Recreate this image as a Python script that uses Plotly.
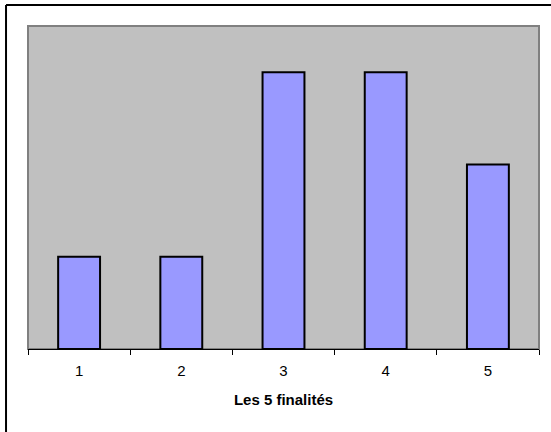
import plotly.graph_objects as go

categories = ["1", "2", "3", "4", "5"]
values = [1, 1, 3, 3, 2]
x_title = "Les 5 finalités"

fig = go.Figure(go.Bar(
    x=categories, y=values,
    marker=dict(color="#9999FF", line=dict(color="#000000", width=2)),
    width=0.41,
))

fig.update_layout(
    width=551, height=432,
    margin=dict(l=28, r=12, t=26, b=83),
    paper_bgcolor="#FFFFFF",
    plot_bgcolor="#C0C0C0",
    showlegend=False,
    font=dict(family="Liberation Sans, Arial, sans-serif", size=15, color="#000000"),
    xaxis=dict(
        type="category", tickson="boundaries", ticks="outside", ticklen=5,
        tickcolor="#000000", tickwidth=1, ticklabelstandoff=8,
        showline=True, linecolor="#000000", linewidth=1,
        showgrid=False, zeroline=False,
        tickfont=dict(size=15),
        title=dict(text="<b>" + x_title + "</b>", font=dict(size=15), standoff=16),
    ),
    yaxis=dict(range=[0, 3.5], showticklabels=False, showgrid=False,
               zeroline=False, ticks="", showline=False),
    shapes=[
        dict(type="rect", xref="paper", yref="paper", x0=0, x1=1, y0=0, y1=1,
             line=dict(color="#808080", width=2), layer="below"),
        dict(type="line", xref="paper", yref="paper", x0=-0.043, x1=1.1, y0=1.065, y1=1.065,
             line=dict(color="#000000", width=2)),
        dict(type="line", xref="paper", yref="paper", x0=-0.043, x1=-0.043, y0=1.065, y1=-0.4,
             line=dict(color="#000000", width=2)),
    ],
)

fig.write_html("out.html", config={"displayModeBar": False},
               post_script="document.body.style.margin='0';document.body.style.overflow='hidden';")
